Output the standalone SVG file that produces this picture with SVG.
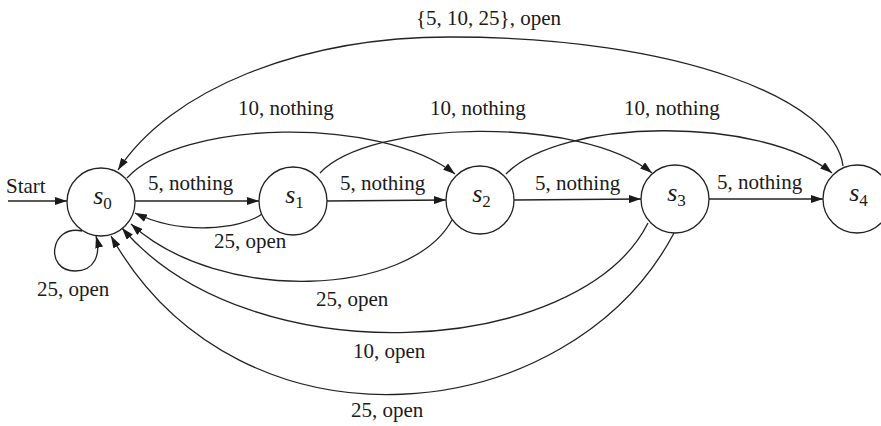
<svg xmlns="http://www.w3.org/2000/svg" width="881" height="426" viewBox="0 0 881 426">
<style>
.node circle{fill:#fff;stroke:#222;stroke-width:1.3}
.edge{fill:none;stroke:#222;stroke-width:1.3;marker-end:url(#arr)}
text{font-family:"Liberation Serif","Times New Roman",serif;font-size:21px;fill:#1a1a1a}
.st{font-size:26px;font-style:italic}
.sub{font-size:17px;font-style:normal}
</style>
<defs>
<marker id="arr" viewBox="0 0 12 8" refX="12" refY="4" markerWidth="12" markerHeight="8" markerUnits="userSpaceOnUse" orient="auto">
<path d="M0,0 L12,4 L0,8 z" fill="#1a1a1a"/>
</marker>
</defs>
<rect width="881" height="426" fill="#fff"/>
<g id="connectors">
<path class="edge" d="M 8 201 L 67 201"/>
<path class="edge" d="M 135 201 L 259 201"/>
<path class="edge" d="M 327 201 L 446 200"/>
<path class="edge" d="M 514 200 L 641 199"/>
<path class="edge" d="M 709 199 L 823 199"/>
<path class="edge" d="M 262 214 C 240 230, 180 235, 135 213"/>
<path class="edge" d="M 82 231 C 50 224, 44 271, 75 271 C 95 271, 101 254, 96 236"/>
<path class="edge" d="M 127 178 C 180 120, 380 115, 455 174"/>
<path class="edge" d="M 320 173 C 370 120, 580 115, 652 173"/>
<path class="edge" d="M 506 174 C 560 118, 760 115, 832 173"/>
<path class="edge" d="M 843 166 C 835 100, 680 37, 450 37 C 300 37, 170 90, 118 170"/>
<path class="edge" d="M 452 220 C 410 297, 220 305, 131 224"/>
<path class="edge" d="M 648 223 C 580 358, 250 378, 122 228"/>
<path class="edge" d="M 674 233 C 570 430, 240 465, 111 236"/>
</g>
<g id="edge-labels">
<text x="6" y="193">Start</text>
<text x="148" y="190">5, nothing</text>
<text x="340" y="190">5, nothing</text>
<text x="535" y="190">5, nothing</text>
<text x="717" y="189">5, nothing</text>
<text x="238" y="115">10, nothing</text>
<text x="430" y="115">10, nothing</text>
<text x="624" y="115">10, nothing</text>
<text x="416" y="25">{5, 10, 25}, open</text>
<text x="214" y="248">25, open</text>
<text x="37" y="296">25, open</text>
<text x="316" y="306">25, open</text>
<text x="353" y="358">10, open</text>
<text x="351" y="417">25, open</text>
</g>
<g id="s0" class="node"><circle cx="101" cy="202" r="34"/><text class="st" x="102.5" y="204" text-anchor="middle">s<tspan class="sub" dy="5">0</tspan></text></g>
<g id="s1" class="node"><circle cx="293" cy="201" r="34"/><text class="st" x="294.5" y="203" text-anchor="middle">s<tspan class="sub" dy="5">1</tspan></text></g>
<g id="s2" class="node"><circle cx="480" cy="200" r="34"/><text class="st" x="481.5" y="202" text-anchor="middle">s<tspan class="sub" dy="5">2</tspan></text></g>
<g id="s3" class="node"><circle cx="675" cy="199" r="34"/><text class="st" x="676.5" y="201" text-anchor="middle">s<tspan class="sub" dy="5">3</tspan></text></g>
<g id="s4" class="node"><circle cx="857" cy="199" r="34"/><text class="st" x="858.5" y="201" text-anchor="middle">s<tspan class="sub" dy="5">4</tspan></text></g>
</svg>
